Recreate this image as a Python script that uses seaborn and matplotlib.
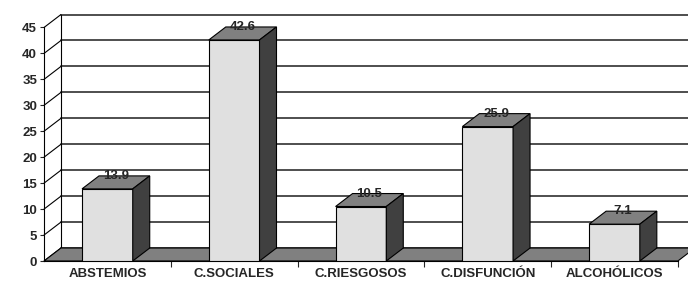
import matplotlib
matplotlib.use("Agg")
import matplotlib.pyplot as plt
from matplotlib.patches import Polygon
import seaborn as sns

# === 数据 ===
categories = ["ABSTEMIOS", "C.SOCIALES", "C.RIESGOSOS", "C.DISFUNCIÓN", "ALCOHÓLICOS"]
values = [13.9, 42.6, 10.5, 25.9, 7.1]
y_ticks = [0, 5, 10, 15, 20, 25, 30, 35, 40, 45]

# 3D 效果参数 (数据坐标中的深度偏移)
DX, DY = 0.134, 2.5
FRONT = "#e0e0e0"
TOP = "#808080"
SIDE = "#404040"
FLOOR = "#808080"
GRID = "#404040"

sns.set_style("white")
plt.rcParams['font.family'] = ['Liberation Sans', 'DejaVu Sans']
plt.rcParams['font.weight'] = 'bold'

fig = plt.figure(figsize=(6.88, 2.81), dpi=100)
ax = fig.add_axes([44/688, 20/281, 644/688, 247/281])
ax.set_facecolor("white")

n = len(categories)
xl, xr = -0.5, n - 0.5

# 背景墙 + 网格线
for v in y_ticks:
    ax.plot([xl + DX, xr + 1], [v + DY, v + DY], color=GRID, lw=1.3, zorder=1)
    ax.plot([xl, xl + DX], [v, v + DY], color="black", lw=0.8, zorder=1, clip_on=False)
ax.plot([xl + DX, xl + DX], [DY, y_ticks[-1] + DY], color="black", lw=0.8, zorder=1)

# 地板
floor = Polygon([(xl, 0), (xr, 0), (xr + DX, DY), (xr + 1, DY),
                 (xl + DX, DY)], closed=True, facecolor=FLOOR, edgecolor="black",
                lw=0.8, zorder=2)
ax.add_patch(floor)

# 柱子正面
sns.barplot(x=categories, y=values, color=FRONT, saturation=1, width=0.4,
            edgecolor="black", linewidth=0.8, ax=ax, zorder=3)

bars = list(ax.patches[1:])
for p, v in zip(bars, values):
    x0, w, h = p.get_x(), p.get_width(), p.get_height()
    top = Polygon([(x0, h), (x0 + w, h), (x0 + w + DX, h + DY), (x0 + DX, h + DY)],
                  closed=True, facecolor=TOP, edgecolor="black", lw=0.8, zorder=3)
    side = Polygon([(x0 + w, 0), (x0 + w + DX, DY), (x0 + w + DX, h + DY), (x0 + w, h)],
                   closed=True, facecolor=SIDE, edgecolor="black", lw=0.8, zorder=3)
    ax.add_patch(top)
    ax.add_patch(side)
    ax.text(x0 + w / 2 + DX / 2, h + DY, f"{v}", ha="center", va="center",
            fontsize=9.5, fontweight="bold", zorder=4)

ax.set_xlim(xl, xr + 0.08)
ax.set_ylim(0, 47.6)

for s in ["top", "right"]:
    ax.spines[s].set_visible(False)
ax.spines["left"].set_bounds(0, 45)
ax.spines["bottom"].set_bounds(xl, xr)
ax.spines["left"].set_linewidth(0.8)
ax.spines["bottom"].set_linewidth(0.8)
ax.spines["left"].set_color("black")
ax.spines["bottom"].set_color("black")

ax.set_yticks(y_ticks)
ax.set_yticklabels([str(t) for t in y_ticks], fontsize=9.5, fontweight="bold")
ax.tick_params(axis="y", direction="out", length=3, width=0.8, pad=2, left=True)

ax.set_xticks(range(n))
ax.set_xticklabels(categories, fontsize=9.5, fontweight="bold")
ax.set_xticks([i + 0.5 for i in range(n)], minor=True)
ax.tick_params(axis="x", which="major", length=0, pad=5)
ax.tick_params(axis="x", which="minor", length=4, width=0.8, direction="out", bottom=True)
ax.set_xlabel("")
ax.set_ylabel("")

fig.savefig("out.png", dpi=100)
